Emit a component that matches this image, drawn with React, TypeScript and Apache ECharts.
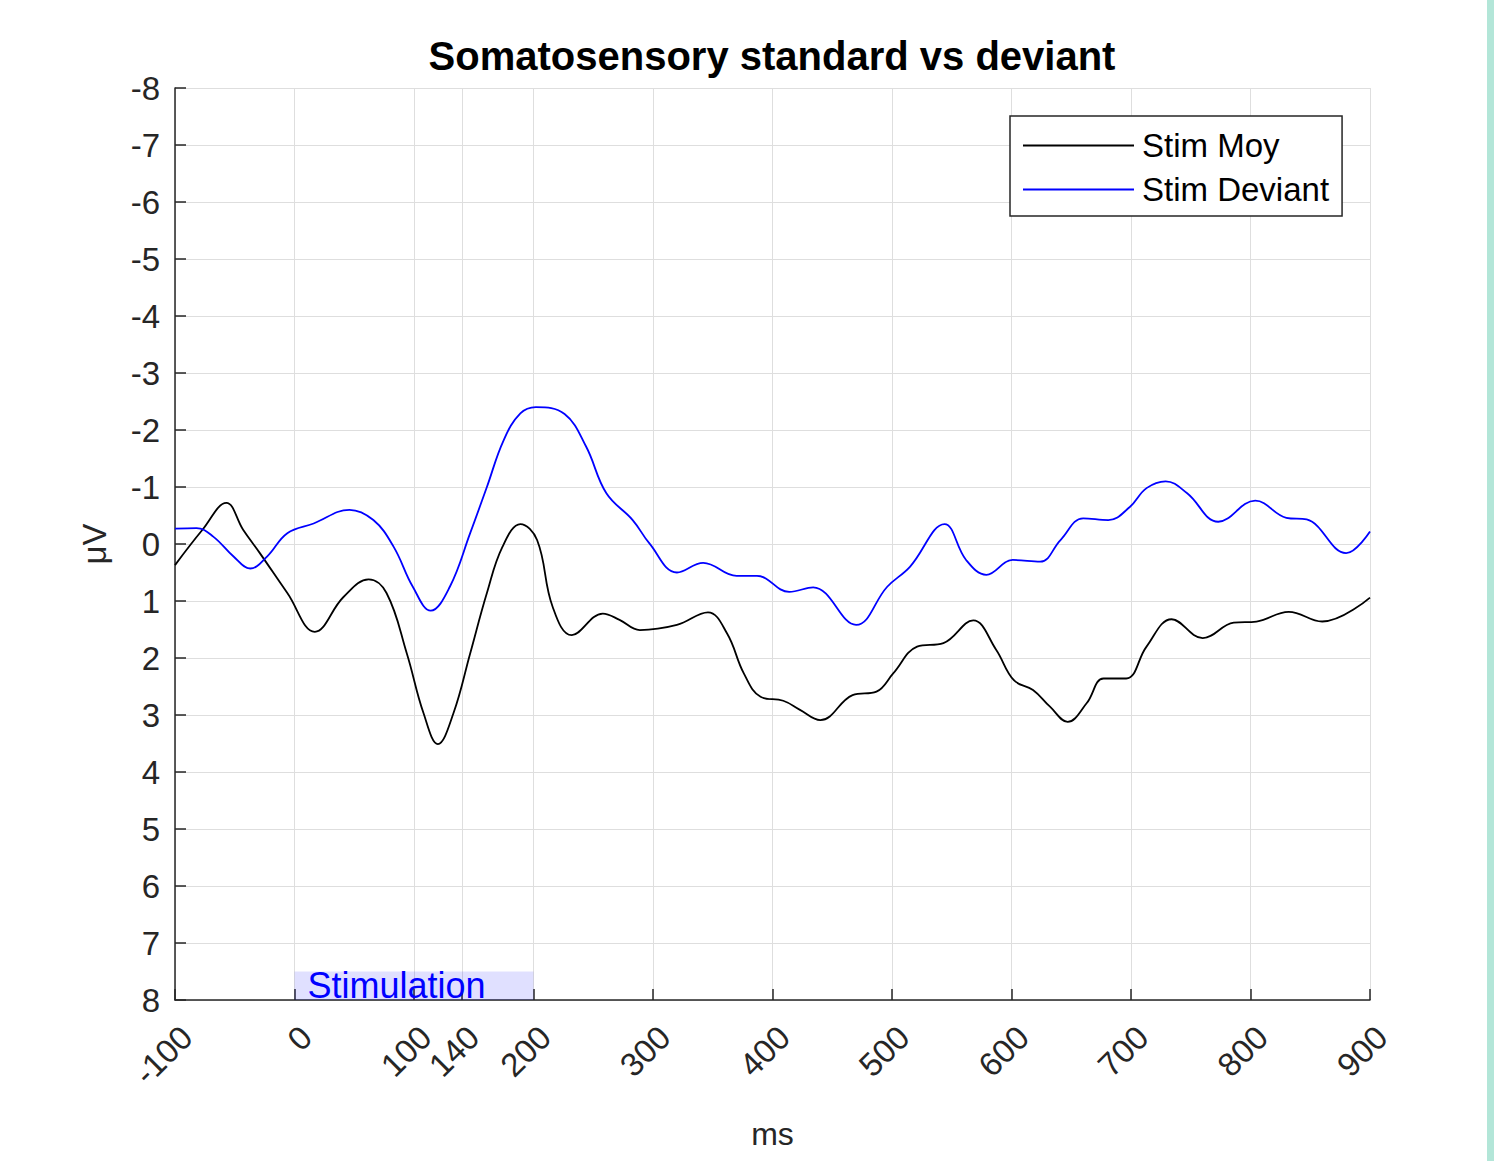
import React, { useEffect, useRef } from "react";
import * as echarts from "echarts";

const titleText = "Somatosensory standard vs deviant";
const seriesNames = ["Stim Moy", "Stim Deviant"];

const tMoy = [-100, -77, -57, -43, -29, -6, 17, 41, 62, 77, 94, 108, 120, 133, 147, 161, 174, 189, 203, 216, 232, 258, 272, 289, 320, 346, 362, 376, 390, 409, 423, 440, 467, 487, 501, 521, 543, 568, 587, 602, 618, 632, 647, 663, 677, 696, 713, 734, 760, 786, 805, 832, 860, 900];
const vMoy = [0.37, -0.25, -0.72, -0.25, 0.16, 0.86, 1.54, 0.93, 0.62, 0.86, 1.92, 2.97, 3.51, 2.97, 1.92, 0.86, 0.05, -0.35, -0.07, 1.1, 1.6, 1.22, 1.33, 1.51, 1.42, 1.2, 1.57, 2.27, 2.68, 2.75, 2.91, 3.09, 2.65, 2.59, 2.27, 1.8, 1.74, 1.34, 1.85, 2.39, 2.56, 2.85, 3.12, 2.79, 2.36, 2.36, 1.8, 1.32, 1.65, 1.38, 1.36, 1.19, 1.36, 0.94];

const tDev = [-100, -82, -68, -51, -37, -23, -6, 16, 46, 66, 83, 99, 114, 130, 147, 161, 175, 189, 202, 226, 244, 261, 283, 297, 320, 342, 370, 387, 414, 434, 470, 496, 515, 544, 562, 579, 601, 624, 641, 660, 681, 699, 713, 729, 747, 773, 804, 830, 847, 880, 900];
const vDev = [-0.27, -0.28, -0.13, 0.22, 0.43, 0.22, -0.19, -0.36, -0.6, -0.42, 0.05, 0.75, 1.17, 0.75, -0.19, -1.0, -1.82, -2.29, -2.4, -2.28, -1.71, -0.89, -0.42, -0.01, 0.5, 0.33, 0.56, 0.56, 0.84, 0.76, 1.42, 0.75, 0.4, -0.35, 0.28, 0.54, 0.28, 0.31, -0.07, -0.45, -0.42, -0.65, -0.98, -1.1, -0.89, -0.39, -0.76, -0.46, -0.43, 0.16, -0.22];

const xTicks = [-100, 0, 100, 140, 200, 300, 400, 500, 600, 700, 800, 900];
const stimWindow = [0, 200];
const stimBand = [7.5, 8];
const stimLabel = "Stimulation";

const FONT = "'Liberation Sans', Arial, Helvetica, sans-serif";
const AXIS_COLOR = "#262626";
const GRID_COLOR = "#dedede";

export default function App() {
  const ref = useRef<HTMLDivElement>(null);
  useEffect(() => {
    if (!ref.current) return;
    const chart = echarts.init(ref.current, null, { renderer: "svg" });
    const moy = tMoy.map((t, i) => [t, vMoy[i]]);
    const dev = tDev.map((t, i) => [t, vDev[i]]);
    chart.setOption({
      animation: false,
      backgroundColor: "#ffffff",
      textStyle: { fontFamily: FONT },
      title: {
        text: titleText,
        left: 772,
        textAlign: "center",
        top: 36,
        padding: 0,
        textStyle: { fontSize: 40, fontWeight: "bold", color: "#000", fontFamily: FONT },
      },
      legend: {
        orient: "vertical",
        left: 1010,
        top: 116,
        padding: [13, 13, 10, 12],
        itemGap: 11,
        itemWidth: 111,
        itemHeight: 2,
        borderColor: AXIS_COLOR,
        borderWidth: 1.5,
        backgroundColor: "#ffffff",
        itemStyle: { opacity: 0 },
        textStyle: { fontSize: 33, color: "#000", fontFamily: FONT, padding: [0, 0, 0, 3] },
        data: seriesNames,
      },
      grid: { left: 175, right: 132, top: 88, bottom: 161, containLabel: false },
      xAxis: {
        type: "value",
        min: -100,
        max: 900,
        interval: 100,
        name: "ms",
        nameLocation: "middle",
        nameGap: 118,
        nameTextStyle: { fontSize: 32, color: AXIS_COLOR, fontFamily: FONT },
        axisLine: { onZero: false, lineStyle: { color: AXIS_COLOR, width: 1.5 } },
        axisTick: { inside: true, length: 11, customValues: xTicks, lineStyle: { color: AXIS_COLOR, width: 1.5 } },
        axisLabel: {
          customValues: xTicks,
          rotate: 45,
          fontSize: 33,
          color: AXIS_COLOR,
          fontFamily: FONT,
          verticalAlign: "top",
          margin: 20,
        },
        splitLine: { show: true, lineStyle: { color: GRID_COLOR, width: 1 } },
      },
      yAxis: {
        type: "value",
        inverse: true,
        min: -8,
        max: 8,
        interval: 1,
        name: "μV",
        nameLocation: "middle",
        nameGap: 64,
        nameRotate: 90,
        nameTextStyle: { fontSize: 33, color: AXIS_COLOR, fontFamily: FONT },
        axisLine: { show: true, onZero: false, lineStyle: { color: AXIS_COLOR, width: 1.5 } },
        axisTick: { show: true, inside: true, length: 11, lineStyle: { color: AXIS_COLOR, width: 1.5 } },
        axisLabel: { fontSize: 33, color: AXIS_COLOR, fontFamily: FONT, margin: 15 },
        splitLine: { show: true, lineStyle: { color: GRID_COLOR, width: 1 } },
      },
      series: [
        {
          name: seriesNames[0],
          type: "line",
          data: moy,
          smooth: 0.4,
          symbol: "none",
          lineStyle: { color: "#000000", width: 1.8 },
          itemStyle: { color: "#000000" },
          z: 3,
          markArea: {
            silent: true,
            itemStyle: { color: "rgba(0,0,255,0.12)" },
            label: {
              show: true,
              position: "insideLeft",
              distance: 13,
              fontSize: 36,
              color: "#0000ff",
              fontFamily: FONT,
            },
            data: [[{ name: stimLabel, xAxis: stimWindow[0], yAxis: stimBand[0] }, { xAxis: stimWindow[1], yAxis: stimBand[1] }]],
          },
        },
        {
          name: seriesNames[1],
          type: "line",
          data: dev,
          smooth: 0.4,
          symbol: "none",
          lineStyle: { color: "#0000ff", width: 1.8 },
          itemStyle: { color: "#0000ff" },
          z: 4,
        },
      ],
      graphic: [
        { type: "rect", left: 1487, top: 0, shape: { width: 7, height: 1161 }, style: { fill: "#b3e6d8" }, silent: true },
      ],
    });
    return () => chart.dispose();
  }, []);
  return <div ref={ref} style={{ position: "fixed", left: 0, top: 0, width: 1502, height: 1161 }} />;
}
